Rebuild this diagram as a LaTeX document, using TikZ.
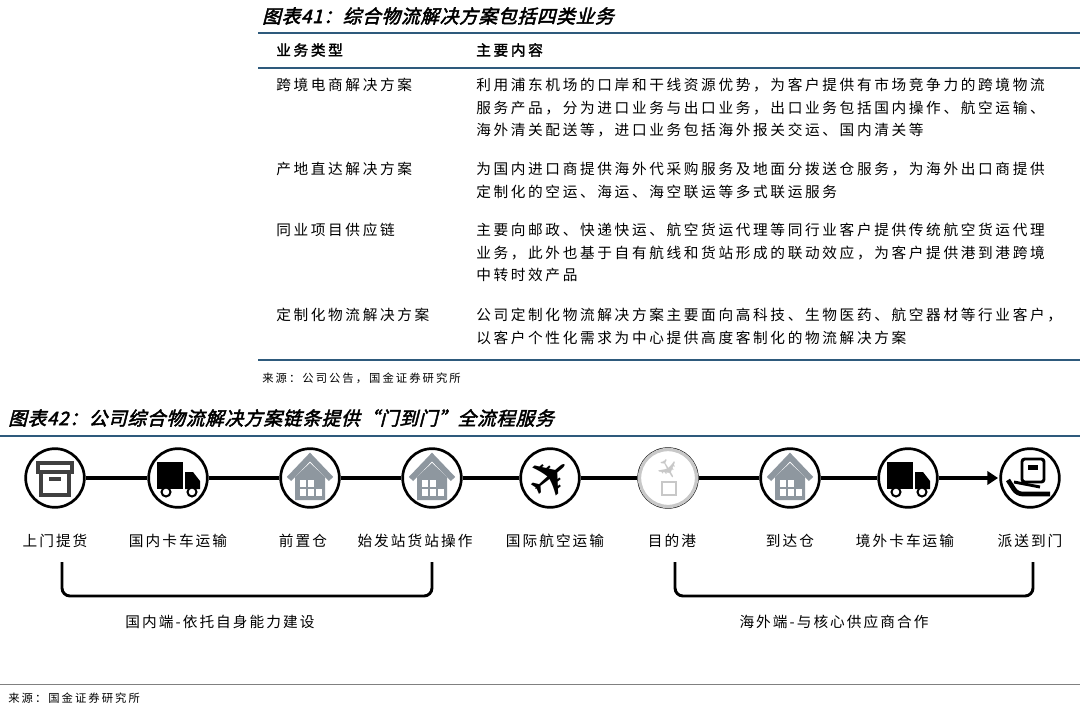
\documentclass[tikz,border=0pt]{standalone}
\usepackage{fontspec}
\usetikzlibrary{positioning, calc, arrows.meta}
\setmainfont{Liberation Sans}
\newfontfamily\cjk[LetterSpace=18]{Noto Sans CJK SC}
\newfontfamily\cjklabel[LetterSpace=14]{Noto Sans CJK SC}
\newfontfamily\cjkhead[LetterSpace=18,FakeBold=2]{Noto Sans CJK SC}
\newfontfamily\cjktitle[FakeSlant=0.25,FakeBold=2.5,LetterSpace=4]{Noto Sans CJK SC}
\newfontfamily\symfont{DejaVu Sans}
\definecolor{ruleblue}{HTML}{2E5A7C}
\definecolor{housegray}{HTML}{8E979F}
\definecolor{lightgray}{HTML}{C8C8C8}
\tikzset{
    cell/.style={anchor=north west, inner sep=0pt, align=left, font=\fontsize{11}{16.9}\selectfont\cjk},
    head/.style={anchor=west, inner sep=0pt, font=\fontsize{11}{12}\selectfont\cjkhead},
    title/.style={anchor=west, inner sep=0pt, font=\fontsize{14}{16}\selectfont\cjktitle},
    source/.style={anchor=west, inner sep=0pt, font=\fontsize{8.5}{10}\selectfont\cjk},
    step0/.style={circle, draw, line width=2pt, fill=white, minimum size=44pt, inner sep=0pt},
    steplabel/.style={inner sep=0pt, font=\fontsize{11}{12}\selectfont\cjklabel},
    chain/.style={line width=3pt},
    bracket/.style={line width=2.2pt, rounded corners=6pt},
    blueRule/.style={draw=ruleblue, line width=1.5pt},
}
\newcommand{\iconBox}[1]{
    \draw[line width=3pt, draw=black!75] ($(#1)+(-17,-15)$) rectangle ($(#1)+(17,-6)$);
    \draw[line width=3pt, draw=black!75] ($(#1)+(-14,-6)$) rectangle ($(#1)+(14,17)$);
    \fill[black!75] ($(#1)+(-6,-1)$) rectangle ($(#1)+(6,3)$);
}
\newcommand{\iconTruck}[1]{
    \fill ($(#1)+(-21,-16)$) rectangle ($(#1)+(5,11)$);
    \fill ($(#1)+(7,-6)$) -- ($(#1)+(15,-6)$) -- ($(#1)+(22,3)$) -- ($(#1)+(22,11)$) -- ($(#1)+(7,11)$) -- cycle;
    \draw[fill=white, line width=1.5pt] ($(#1)+(-12,14)$) circle (4.5);
    \draw[fill=white, line width=1.5pt] ($(#1)+(14,14)$) circle (4.5);
}
\newcommand{\iconHouse}[1]{
    \draw[housegray, line width=4.5pt] ($(#1)+(-21,1)$) -- ($(#1)+(0,-21)$) -- ($(#1)+(21,1)$);
    \fill[housegray] ($(#1)+(-15,-1)$) -- ($(#1)+(0,-15)$) -- ($(#1)+(15,-1)$) -- ($(#1)+(15,22)$) -- ($(#1)+(-15,22)$) -- cycle;
    \foreach \dx in {-10,-2,6} {
        \fill[white] ($(#1)+(\dx,11)$) rectangle ++(6,7);
    }
    \foreach \dx in {-10,-2} {
        \fill[white] ($(#1)+(\dx,2)$) rectangle ++(6,7);
    }
}
\newcommand{\iconHand}[1]{
    \draw[line width=2.2pt, rounded corners=2pt] ($(#1)+(-8,-19)$) rectangle ($(#1)+(14,4)$);
    \fill ($(#1)+(-2,-13)$) rectangle ($(#1)+(8,-8)$);
    \draw[line width=3.5pt, rounded corners=4pt] ($(#1)+(-22,2)$) -- ($(#1)+(-13,16)$) -- ($(#1)+(20,16)$);
    \draw[line width=2.2pt, rounded corners=3pt] ($(#1)+(-16,4)$) -- ($(#1)+(10,9)$);
}

\begin{document}
\begin{tikzpicture}[x=0.75pt, y=-0.75pt]
    \useasboundingbox (0,0) rectangle (1086,711);

    % table
    \node[title] (t41) at (262,16) {图表41：综合物流解决方案包括四类业务};
    \draw[blueRule] (258,33) -- (1080,33);
    \node[head] (h1) at (276,50) {业务类型};
    \node[head] (h2) at (476,50) {主要内容};
    \draw[blueRule] (258,68) -- (1080,68);

    \node[cell] (r1a) at (276,78) {跨境电商解决方案};
    \node[cell] (r1b) at (476,78) {利用浦东机场的口岸和干线资源优势，为客户提供有市场竞争力的跨境物流\\服务产品，分为进口业务与出口业务，出口业务包括国内操作、航空运输、\\海外清关配送等，进口业务包括海外报关交运、国内清关等};
    \node[cell] (r2a) at (276,162) {产地直达解决方案};
    \node[cell] (r2b) at (476,162) {为国内进口商提供海外代采购服务及地面分拨送仓服务，为海外出口商提供\\定制化的空运、海运、海空联运等多式联运服务};
    \node[cell] (r3a) at (276,223) {同业项目供应链};
    \node[cell] (r3b) at (476,223) {主要向邮政、快递快运、航空货运代理等同行业客户提供传统航空货运代理\\业务，此外也基于自有航线和货站形成的联动效应，为客户提供港到港跨境\\中转时效产品};
    \node[cell] (r4a) at (276,308) {定制化物流解决方案};
    \node[cell] (r4b) at (476,308) {公司定制化物流解决方案主要面向高科技、生物医药、航空器材等行业客户，\\以客户个性化需求为中心提供高度客制化的物流解决方案};
    \draw[blueRule] (258,360) -- (1080,360);
    \node[source] (src1) at (262,378) {来源：公司公告，国金证券研究所};

    % flow
    \node[title] (t42) at (8,418) {图表42：公司综合物流解决方案链条提供“门到门”全流程服务};
    \draw[blueRule] (0,436) -- (1080,436);

    \foreach \i/\x/\lx/\txt in {1/55/55/上门提货, 2/178/178/国内卡车运输, 3/310/303/前置仓, 4/432/415/始发站货站操作,
        5/550/555/国际航空运输, 6/668/672/目的港, 7/790/790/到达仓, 8/908/905/境外卡车运输, 9/1030/1030/派送到门} {
        \node[step0] (s\i) at (\x,478) {};
        \node[steplabel] (l\i) at (\lx,541) {\txt};
    }
    \draw[draw=lightgray, line width=2.5pt] (s6) circle (28.5);
    \foreach \a/\b in {1/2, 2/3, 3/4, 4/5, 5/6, 6/7, 7/8} {
        \draw[chain] (s\a) -- (s\b);
    }
    \draw[chain, -{Triangle[length=8pt, width=10pt]}, shorten >=1pt] (s8) -- (s9);

    \iconBox{s1}
    \iconTruck{s2}
    \iconHouse{s3}
    \iconHouse{s4}
    \node[font=\fontsize{40}{40}\symfont, rotate=40] at (s5) {✈};
    \node[font=\fontsize{20}{20}\symfont, text=lightgray, rotate=-60] at ($(s6)+(0,-9)$) {✈};
    \draw[lightgray, line width=1.3pt] ($(s6)+(-6,4)$) rectangle ($(s6)+(8,17)$);
    \iconHouse{s7}
    \iconTruck{s8}
    \iconHand{s9}

    % brackets
    \draw[bracket] (62,562) -- (62,596) -- (432,596) -- (432,562);
    \draw[bracket] (675,562) -- (675,596) -- (1033,596) -- (1033,562);
    \node[steplabel] (g1) at (220,622) {国内端-依托自身能力建设};
    \node[steplabel] (g2) at (834,622) {海外端-与核心供应商合作};

    \draw[black!50, line width=0.6pt] (0,684) -- (1080,684);
    \node[source] (src2) at (8,698) {来源：国金证券研究所};
\end{tikzpicture}
\end{document}
